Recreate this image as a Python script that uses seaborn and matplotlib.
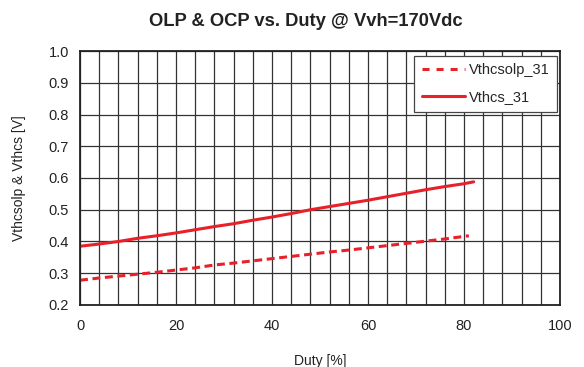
import numpy as np
import pandas as pd
import matplotlib
matplotlib.use("Agg")
import matplotlib.pyplot as plt
import seaborn as sns
from matplotlib.ticker import MultipleLocator, FormatStrFormatter
from matplotlib.lines import Line2D

duty_olp = [0, 4, 8, 12, 16, 20, 24, 28, 32, 36, 40, 44, 48, 52, 56, 60, 64, 68, 72, 76, 80, 81]
vthcsolp = [0.278, 0.285, 0.291, 0.297, 0.303, 0.310, 0.317, 0.326, 0.332, 0.339, 0.346,
            0.353, 0.360, 0.367, 0.373, 0.380, 0.387, 0.394, 0.401, 0.408, 0.416, 0.418]

duty_ocp = [0, 4, 8, 12, 16, 20, 24, 28, 32, 36, 40, 44, 48, 52, 56, 60, 64, 68, 72, 76, 80, 82]
vthcs = [0.385, 0.392, 0.400, 0.410, 0.418, 0.427, 0.437, 0.447, 0.456, 0.467, 0.477,
         0.488, 0.500, 0.510, 0.520, 0.530, 0.541, 0.552, 0.563, 0.573, 0.582, 0.588]

sns.set_theme(style="white")
plt.rcParams['font.family'] = ['Liberation Sans', 'DejaVu Sans']

df = pd.concat([
    pd.DataFrame({"Duty": duty_olp, "V": vthcsolp, "series": "Vthcsolp_31"}),
    pd.DataFrame({"Duty": duty_ocp, "V": vthcs, "series": "Vthcs_31"}),
])

fig = plt.figure(figsize=(5.84, 3.67), dpi=100)
ax = fig.add_axes([0.137, 0.169, 0.822, 0.692])

red = "#e8202a"
sns.lineplot(data=df, x="Duty", y="V", hue="series", style="series",
             palette={"Vthcsolp_31": red, "Vthcs_31": red},
             dashes={"Vthcsolp_31": (2.6, 1.5), "Vthcs_31": ""},
             linewidth=2.2, ax=ax, legend=False)

ax.set_xlim(0, 100)
ax.set_ylim(0.2, 1.0)
ax.xaxis.set_major_locator(MultipleLocator(20))
ax.xaxis.set_minor_locator(MultipleLocator(4))
ax.yaxis.set_major_locator(MultipleLocator(0.1))
ax.yaxis.set_major_formatter(FormatStrFormatter('%.1f'))
ax.grid(which="both", axis="x", color="#333333", linewidth=0.9)
ax.grid(which="major", axis="y", color="#333333", linewidth=0.9)
ax.set_axisbelow(True)
for s in ax.spines.values():
    s.set_color("#222222")
    s.set_linewidth(1.3)
ax.tick_params(axis="both", which="both", length=0, labelsize=10.5, colors="#222222")
ax.tick_params(axis="x", pad=10)
ax.tick_params(axis="y", pad=8)

fig.text(306 / 584, 1 - 21 / 367, "OLP & OCP vs. Duty @ Vvh=170Vdc", fontsize=13.2,
         fontweight="bold", color="#222222", ha="center", va="center")
ax.set_xlabel("Duty [%]", fontsize=10, color="#222222", labelpad=15)
ax.set_ylabel("Vthcsolp & Vthcs [V]", fontsize=10, color="#222222", labelpad=16)

handles = [Line2D([], [], color=red, linewidth=2.2, linestyle=(0, (2.3, 2.3))),
           Line2D([], [], color=red, linewidth=2.2)]
leg = ax.legend(handles, ["Vthcsolp_31", "Vthcs_31"], loc="upper right",
                bbox_to_anchor=(0.994, 0.980), borderaxespad=0, fontsize=10.5,
                frameon=True, fancybox=False, framealpha=1, edgecolor="#444444",
                handlelength=2.95, handletextpad=0.3, borderpad=0.5, labelspacing=0.9)
leg.get_frame().set_linewidth(0.9)

fig.savefig("out.png", dpi=100)
